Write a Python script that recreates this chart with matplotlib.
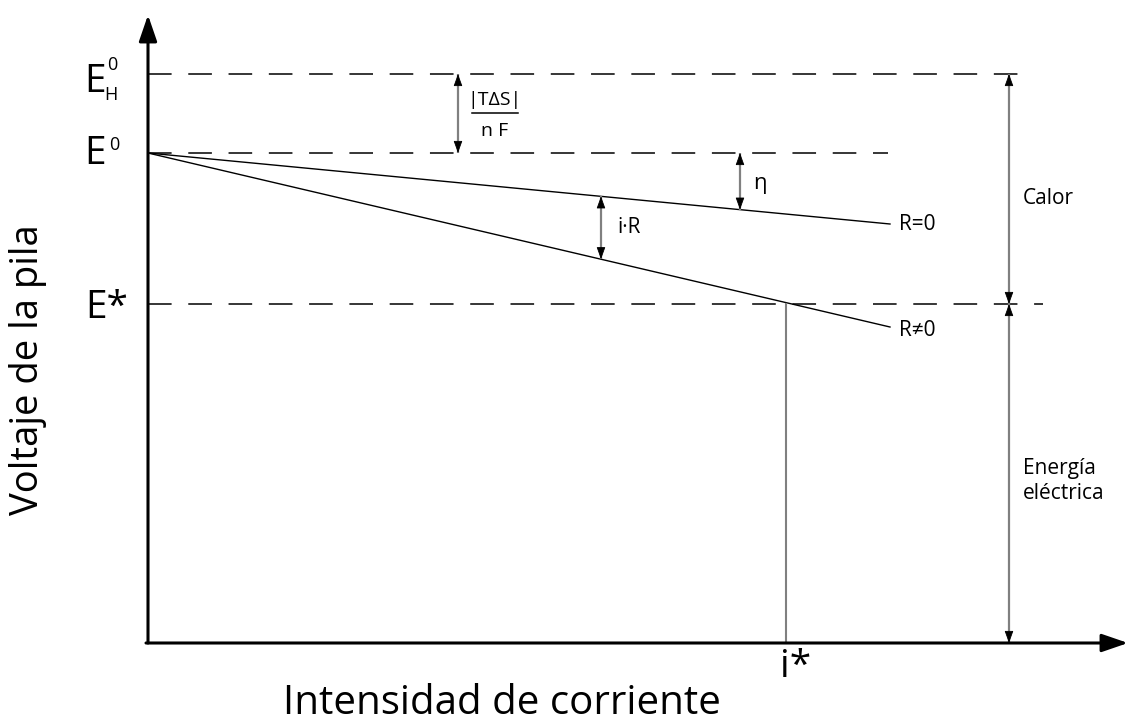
import matplotlib
matplotlib.use("Agg")
import numpy as np
import matplotlib.pyplot as plt
from matplotlib.patches import FancyArrowPatch

plt.rcParams['font.family'] = ['Open Sans', 'DejaVu Sans']
plt.rcParams['lines.scale_dashes'] = False

# ---------------- data (arbitrary units) ----------------
level_names = ["E_H0", "E0", "E*"]
level_values = [569, 490, 339]          # E_H^0, E^0, E*
level_dash_end = [877, 740, 895]        # how far each dashed level line runs
curve_current = [0, 742]
curve_R0 = [490, 419]                   # R = 0
curve_Rne0 = [490, 316]                 # R != 0
i_star = 638
x_axis_end = 980
y_axis_end = 628
tds_arrow_i = 310                        # |TΔS|/nF arrow position
eta_arrow_i = 592                        # η arrow position
iR_arrow_i = 453                         # i·R arrow position
energy_arrow_i = 861                     # Calor / Energía eléctrica arrows

E_H0, E0, E_star = level_values

fig = plt.figure(figsize=(11.38, 7.27), dpi=100)
ax = fig.add_axes([0, 0, 1, 1])
ax.set_xlim(-148, 990)
ax.set_ylim(-84, 643)
ax.axis("off")

GRAY = "#808080"

def axis_arrow(p0, p1):
    a = FancyArrowPatch(p0, p1, arrowstyle="-|>,head_length=1.6,head_width=0.55",
                        mutation_scale=10, lw=2.2, color="black",
                        shrinkA=0, shrinkB=0, zorder=5)
    ax.add_patch(a)

def head(x, y_from, y_to):
    a = FancyArrowPatch((x, y_from), (x, y_to),
                        arrowstyle="-|>,head_length=0.75,head_width=0.27",
                        mutation_scale=10, lw=0.6, color="black",
                        shrinkA=0, shrinkB=0, zorder=4)
    ax.add_patch(a)

def dbl_arrow(x, y0, y1):
    ax.plot([x, x], [y0, y1], color=GRAY, lw=1.6, solid_capstyle="butt", zorder=3)
    d = 9 if y1 > y0 else -9
    head(x, y0 + d, y0)
    head(x, y1 - d, y1)

# axes
axis_arrow((0, 0), (0, y_axis_end))
axis_arrow((-2, 0), (x_axis_end, 0))

# dashed level lines
for v, xe in zip(level_values, level_dash_end):
    ax.plot([0, xe], [v, v], color="black", lw=1.1, dashes=(17, 12))

# polarisation curves
ax.plot(curve_current, curve_R0, color="black", lw=1.0)
ax.plot(curve_current, curve_Rne0, color="black", lw=1.0)

# i* drop line
ax.plot([i_star, i_star], [0, E_star], color=GRAY, lw=1.5)

# double arrows
dbl_arrow(tds_arrow_i, E_H0, E0)
eta_low = np.interp(eta_arrow_i, curve_current, curve_R0)
dbl_arrow(eta_arrow_i, E0, eta_low)
iR_top = np.interp(iR_arrow_i, curve_current, curve_R0)
iR_bot = np.interp(iR_arrow_i, curve_current, curve_Rne0)
dbl_arrow(iR_arrow_i, iR_top, iR_bot)
dbl_arrow(energy_arrow_i, E_H0, E_star)
dbl_arrow(energy_arrow_i, E_star, 0)

# ---------------- texts ----------------
big = 28
ax.text(-53, E_H0 - 8, "E", fontsize=big, ha="center", va="center")
ax.text(-36, E_H0 + 9, "0", fontsize=13, ha="center", va="center")
ax.text(-37, E_H0 - 21, "H", fontsize=13, ha="center", va="center")
ax.text(-53, E0 - 1, "E", fontsize=big, ha="center", va="center")
ax.text(-34, E0 + 8, "0", fontsize=13, ha="center", va="center")
ax.text(-63, E_star - 4, "E*", fontsize=big, ha="left", va="center")
ax.text(i_star - 6, -5, "i*", fontsize=big, ha="left", va="top")

ax.text(-120, 273, "Voltaje de la pila", fontsize=27.5, rotation=90,
        ha="center", va="center")
ax.text(354, -61, "Intensidad de corriente", fontsize=29, ha="center", va="center")

small = 15
ax.text(curve_current[1] + 9, curve_R0[1], "R=0", fontsize=small, ha="left", va="center")
ax.text(curve_current[1] + 9, curve_Rne0[1] - 3, "R≠0", fontsize=small, ha="left", va="center")
ax.text(eta_arrow_i + 13, E0 - 30, "η", fontsize=16, ha="left", va="center")
ax.text(iR_arrow_i + 16, (iR_top + iR_bot) / 2, "i·R", fontsize=small, ha="left", va="center")
ax.text(energy_arrow_i + 14, 445, "Calor", fontsize=small, ha="left", va="center")
ax.text(energy_arrow_i + 14, 162, "Energía\neléctrica", fontsize=small, ha="left",
        va="center", linespacing=1.3)

# |TΔS| / nF fraction
fx = tds_arrow_i + 37
ax.text(fx, 543, "|TΔS|", fontsize=14, ha="center", va="center")
ax.plot([fx - 23, fx + 23], [530, 530], color="black", lw=1.1)
ax.text(fx, 512, "n F", fontsize=14, ha="center", va="center")

fig.savefig("out.png", dpi=100)
